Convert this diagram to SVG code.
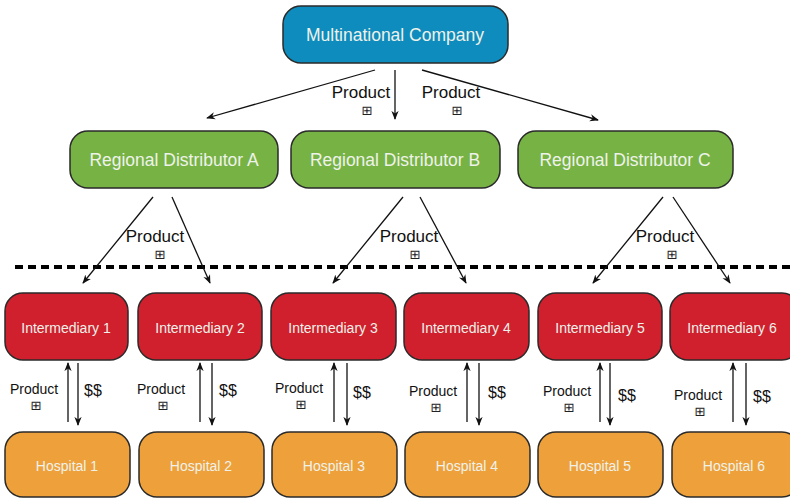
<svg xmlns="http://www.w3.org/2000/svg" width="790" height="499" viewBox="0 0 790 499">
<defs>
<marker id="ah" viewBox="0 0 10 10" refX="9" refY="5" markerWidth="9" markerHeight="9" markerUnits="userSpaceOnUse" orient="auto">
<path d="M0,1 L10,5 L0,9 L3,5 Z" fill="#111"/>
</marker>
</defs>
<style>
.n{stroke:#2a2a2a;stroke-width:1.5}
.co{fill:#0e8cbd}
.di{fill:#77b244}
.im{fill:#d0202e}
.ho{fill:#eea13a}
.t{font-family:"Liberation Sans",Arial,sans-serif;fill:#eef2ea;text-anchor:middle;dominant-baseline:central}
.big{font-size:17.5px}
.sm{font-size:14px}
.lab{font-family:"Liberation Sans",Arial,sans-serif;fill:#111;text-anchor:middle}
.sym{font-family:"DejaVu Sans",sans-serif;font-size:13px;fill:#222;text-anchor:middle}
.c{stroke:#111;stroke-width:1.3;fill:none;marker-end:url(#ah)}
.dash{stroke:#000;stroke-width:4;stroke-dasharray:8 5}
</style>
<rect width="790" height="499" fill="#fff"/>
<line class="dash" x1="15" y1="267" x2="790" y2="267"/>
<g id="company"><rect class="n co" x="283" y="6" width="225" height="57" rx="18"/><text class="t big" x="395" y="35">Multinational Company</text></g>
<g id="distA"><rect class="n di" x="70" y="131" width="208" height="57" rx="18"/><text class="t big" x="174" y="160">Regional Distributor A</text></g>
<g id="distB"><rect class="n di" x="291" y="131" width="209" height="57" rx="18"/><text class="t big" x="395" y="160">Regional Distributor B</text></g>
<g id="distC"><rect class="n di" x="518" y="131" width="215" height="57" rx="18"/><text class="t big" x="625" y="160">Regional Distributor C</text></g>
<g id="int1"><rect class="n im" x="5" y="293" width="123" height="67" rx="18"/><text class="t sm" x="66" y="328">Intermediary 1</text></g>
<g id="int2"><rect class="n im" x="138" y="293" width="124" height="67" rx="18"/><text class="t sm" x="200" y="328">Intermediary 2</text></g>
<g id="int3"><rect class="n im" x="271" y="293" width="125" height="67" rx="18"/><text class="t sm" x="333" y="328">Intermediary 3</text></g>
<g id="int4"><rect class="n im" x="404" y="293" width="125" height="67" rx="18"/><text class="t sm" x="466" y="328">Intermediary 4</text></g>
<g id="int5"><rect class="n im" x="538" y="293" width="124" height="67" rx="18"/><text class="t sm" x="600" y="328">Intermediary 5</text></g>
<g id="int6"><rect class="n im" x="670" y="293" width="130" height="67" rx="18"/><text class="t sm" x="732" y="328">Intermediary 6</text></g>
<g id="hos1"><rect class="n ho" x="5" y="432" width="125" height="65" rx="18"/><text class="t sm" x="67" y="466">Hospital 1</text></g>
<g id="hos2"><rect class="n ho" x="139" y="432" width="125" height="65" rx="18"/><text class="t sm" x="201" y="466">Hospital 2</text></g>
<g id="hos3"><rect class="n ho" x="272" y="432" width="125" height="65" rx="18"/><text class="t sm" x="334" y="466">Hospital 3</text></g>
<g id="hos4"><rect class="n ho" x="405" y="432" width="125" height="65" rx="18"/><text class="t sm" x="467" y="466">Hospital 4</text></g>
<g id="hos5"><rect class="n ho" x="538" y="432" width="125" height="65" rx="18"/><text class="t sm" x="600" y="466">Hospital 5</text></g>
<g id="hos6"><rect class="n ho" x="672" y="432" width="128" height="65" rx="18"/><text class="t sm" x="734" y="466">Hospital 6</text></g>
<g id="connectors">
<line class="c" x1="375" y1="70" x2="207" y2="118"/>
<line class="c" x1="395" y1="70" x2="395" y2="119"/>
<line class="c" x1="422" y1="70" x2="598" y2="120"/>
<line class="c" x1="153" y1="197" x2="83" y2="283"/>
<line class="c" x1="172" y1="197" x2="210" y2="283"/>
<line class="c" x1="403" y1="197" x2="333" y2="283"/>
<line class="c" x1="420" y1="197" x2="466" y2="283"/>
<line class="c" x1="663" y1="197" x2="593" y2="283"/>
<line class="c" x1="673" y1="197" x2="730" y2="283"/>
<line class="c" x1="68" y1="422" x2="68" y2="363"/>
<line class="c" x1="78" y1="363" x2="78" y2="425"/>
<line class="c" x1="200" y1="422" x2="200" y2="363"/>
<line class="c" x1="212" y1="363" x2="212" y2="425"/>
<line class="c" x1="334" y1="422" x2="334" y2="363"/>
<line class="c" x1="347" y1="363" x2="347" y2="425"/>
<line class="c" x1="467" y1="422" x2="467" y2="363"/>
<line class="c" x1="479" y1="363" x2="479" y2="425"/>
<line class="c" x1="600" y1="422" x2="600" y2="363"/>
<line class="c" x1="610" y1="363" x2="610" y2="425"/>
<line class="c" x1="733" y1="422" x2="733" y2="363"/>
<line class="c" x1="746" y1="363" x2="746" y2="425"/>
</g>
<g id="labels">
<text class="lab" x="361" y="98" font-size="17">Product</text><text class="sym" x="367" y="115">⊞</text>
<text class="lab" x="451" y="98" font-size="17">Product</text><text class="sym" x="457" y="115">⊞</text>
<text class="lab" x="155" y="242" font-size="17">Product</text><text class="sym" x="160" y="259">⊞</text>
<text class="lab" x="409" y="242" font-size="17">Product</text><text class="sym" x="415" y="259">⊞</text>
<text class="lab" x="665" y="242" font-size="17">Product</text><text class="sym" x="672" y="259">⊞</text>
<text class="lab" x="34" y="394" font-size="14">Product</text><text class="sym" x="36" y="410">⊞</text>
<text class="lab" x="161" y="394" font-size="14">Product</text><text class="sym" x="163" y="410">⊞</text>
<text class="lab" x="299" y="393" font-size="14">Product</text><text class="sym" x="301" y="409">⊞</text>
<text class="lab" x="433" y="396" font-size="14">Product</text><text class="sym" x="436" y="412">⊞</text>
<text class="lab" x="567" y="396" font-size="14">Product</text><text class="sym" x="569" y="412">⊞</text>
<text class="lab" x="698" y="400" font-size="14">Product</text><text class="sym" x="700" y="416">⊞</text>
<text class="lab" x="93" y="396" font-size="16">$$</text>
<text class="lab" x="228" y="396" font-size="16">$$</text>
<text class="lab" x="362" y="398" font-size="16">$$</text>
<text class="lab" x="497" y="398" font-size="16">$$</text>
<text class="lab" x="627" y="401" font-size="16">$$</text>
<text class="lab" x="762" y="402" font-size="16">$$</text>
</g>
</svg>
